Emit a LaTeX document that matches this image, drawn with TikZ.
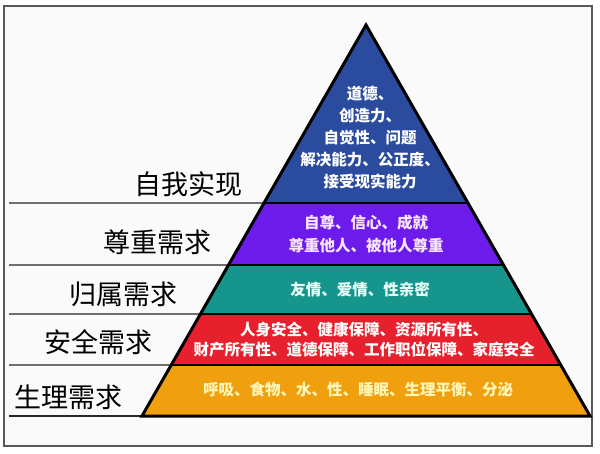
\documentclass[tikz,border=0pt]{standalone}
\usepackage{fontspec}
\usetikzlibrary{calc}
\newfontfamily\cjk{Noto Sans CJK SC}
\definecolor{cblue}{HTML}{2B4C9E}
\definecolor{cpurple}{HTML}{6C1BEA}
\definecolor{cteal}{HTML}{15958B}
\definecolor{cred}{HTML}{E6202C}
\definecolor{corange}{HTML}{F0A00E}
\definecolor{bgc}{HTML}{FAFAFA}
\definecolor{tpink}{HTML}{FBE6FF}
\definecolor{tcyan}{HTML}{E8FFFA}
\definecolor{tyellow}{HTML}{FFF6B8}
\tikzset{
  lvl/.style={anchor=east, font=\cjk\fontsize{27}{30}\selectfont, text=black, inner sep=0pt},
  inner/.style={align=center, font=\cjk\bfseries\fontsize{15.5}{22}\selectfont, inner sep=0pt},
  sep/.style={line width=2pt, black},
  rule/.style={line width=1.4pt, black!85},
}
\begin{document}
\begin{tikzpicture}[x=1pt,y=-1pt]
\useasboundingbox (0,0) rectangle (600,453);
\fill[white] (0,0) rectangle (600,453);
\draw[fill=bgc, line width=1.3pt, draw=black!65] (4,6) rectangle (592,446);
\coordinate (apex) at (366,25);
\coordinate (bl) at (142,416);
\coordinate (br) at (590,416);
% band boundaries on left and right edges
\coordinate (l1) at ($(apex)!0.4552!(bl)$);
\coordinate (r1) at ($(apex)!0.4552!(br)$);
\coordinate (l2) at ($(apex)!0.6138!(bl)$);
\coordinate (r2) at ($(apex)!0.6138!(br)$);
\coordinate (l3) at ($(apex)!0.7391!(bl)$);
\coordinate (r3) at ($(apex)!0.7391!(br)$);
\coordinate (l4) at ($(apex)!0.8696!(bl)$);
\coordinate (r4) at ($(apex)!0.8696!(br)$);
% fills
\fill[cblue] (apex) -- (r1) -- (l1) -- cycle;
\fill[cpurple] (l1) -- (r1) -- (r2) -- (l2) -- cycle;
\fill[cteal] (l2) -- (r2) -- (r3) -- (l3) -- cycle;
\fill[cred] (l3) -- (r3) -- (r4) -- (l4) -- cycle;
\fill[corange] (l4) -- (r4) -- (br) -- (bl) -- cycle;
% left rules
\coordinate (s1) at (9,203);
\coordinate (s2) at (9,265);
\coordinate (s3) at (9,314);
\coordinate (s4) at (9,365);
\coordinate (s5) at (9,416);
\draw[rule] (s1) -- (l1);
\draw[rule] (s2) -- (l2);
\draw[rule] (s3) -- (l3);
\draw[rule] (s4) -- (l4);
\draw[rule] (s5) -- (bl);
% band separators
\draw[sep] (l1) -- (r1);
\draw[sep] (l2) -- (r2);
\draw[sep] (l3) -- (r3);
\draw[sep] (l4) -- (r4);
\draw[line width=3pt, black, line join=miter] (apex) -- (br) -- (bl) -- cycle;
% labels
\node[lvl] (t1) at (243,184) {自我实现};
\node[lvl] (t2) at (212,242) {尊重需求};
\node[lvl] (t3) at (178,294) {归属需求};
\node[lvl] (t4) at (153,342) {安全需求};
\node[lvl] (t5) at (123,397) {生理需求};
% inner texts
\node[inner, text=white] (b1) at (370,138) {道德、\\创造力、\\自觉性、问题\\解决能力、公正度、\\接受现实能力};
\node[inner, text=tpink, font=\cjk\bfseries\fontsize{15.5}{23}\selectfont] (b2) at (366,234) {自尊、信心、成就\\尊重他人、被他人尊重};
\node[inner, text=tcyan] (b3) at (360,289) {友情、爱情、性亲密};
\node[inner, text=white, font=\cjk\bfseries\fontsize{15.5}{20}\selectfont] (b4) at (364,340) {人身安全、健康保障、资源所有性、\\财产所有性、道德保障、工作职位保障、家庭安全};
\node[inner, text=tyellow] (b5) at (358,390) {呼吸、食物、水、性、睡眠、生理平衡、分泌};
\end{tikzpicture}
\end{document}
